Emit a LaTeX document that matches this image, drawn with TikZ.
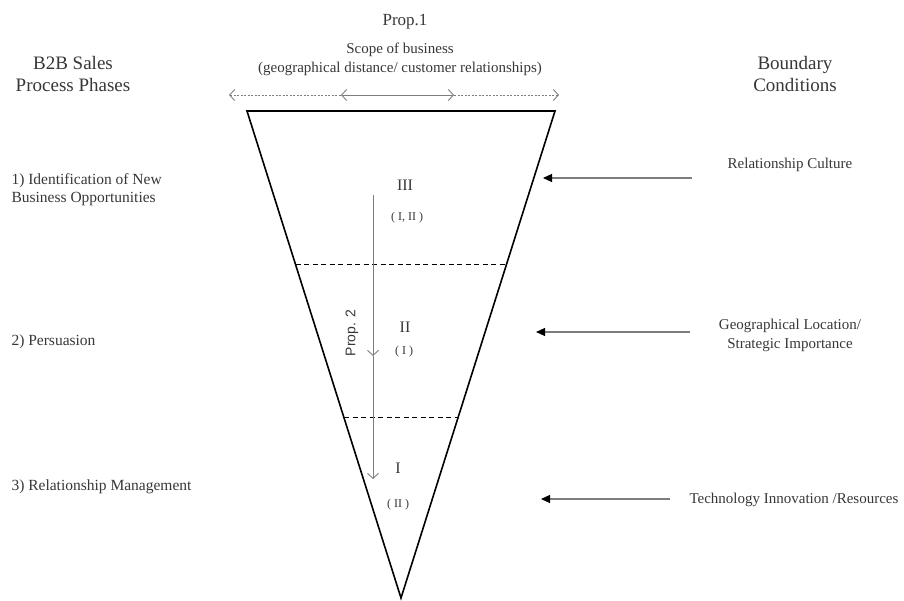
\documentclass[tikz,border=0pt]{standalone}
\usepackage{fontspec}
\setmainfont{Liberation Serif}
\newfontfamily\propsans{Liberation Sans}
\usetikzlibrary{calc, arrows.meta}
\definecolor{txtGray}{RGB}{55,55,55}
\definecolor{lineGray}{RGB}{125,125,125}

\begin{document}
\begin{tikzpicture}[x=1pt, y=-1pt, text=txtGray,
    font=\fontsize{15}{19}\selectfont,
    head/.style={font=\fontsize{19}{22}\selectfont, align=center},
    phase/.style={anchor=west, align=left, font=\fontsize{15.5}{18}\selectfont},
    cond/.style={align=center, font=\fontsize{15}{19}\selectfont},
    level/.style={font=\fontsize{16}{18}\selectfont},
    sub/.style={font=\fontsize{12}{13}\selectfont},
    barb/.tip={Straight Barb[length=5pt, width=11pt]},
    solidhead/.tip={Triangle[length=9pt, width=8pt, fill=black, color=black]},
    border/.style={draw=lineGray, line width=1.1pt, -solidhead},
    scopeline/.style={draw=lineGray, line width=0.9pt}]
  \useasboundingbox (0,0) rectangle (904,601);

  % Funnel outline
  \coordinate (tl) at (247,111);
  \coordinate (tr) at (555,111);
  \coordinate (bt) at (401,598);
  \draw[line width=1.6pt, line join=miter] (tl) -- (tr) -- (bt) -- cycle;

  % Dashed separators between the levels
  \foreach \f/\n in {0.316/a, 0.630/b} {
    \draw[line width=1.1pt, dash pattern=on 5pt off 3.5pt]
      ($(tl)!\f!(bt)$) coordinate (\n L) -- ($(tr)!\f!(bt)$) coordinate (\n R);
  }

  % Column headings
  \node[head] (phases) at (73,74) {B2B Sales\\Process Phases};
  \node[head] (bound) at (795,74) {Boundary\\Conditions};

  % Prop. 1 : scope of business
  \node[font=\fontsize{17}{20}\selectfont] (prop1) at (405,22) {Prop.1};
  \node[align=center] (scope) at (400,59)
    {Scope of business\\(geographical distance/ customer relationships)};
  \coordinate (s0) at (229,95);
  \coordinate (s1) at (341,95);
  \coordinate (s2) at (454,95);
  \coordinate (s3) at (559,95);
  \draw[scopeline, dash pattern=on 2pt off 1.5pt, barb-] (s0) -- (s1);
  \draw[scopeline, barb-barb] (s1) -- (s2);
  \draw[scopeline, dash pattern=on 2pt off 1.5pt, -barb] (s2) -- (s3);

  % Levels inside the funnel
  \node[level] (l3) at (405,185) {III};
  \node[sub]   (l3s) at (407,218) {( I, II )};
  \node[level] (l2) at (405,327) {II};
  \node[sub]   (l2s) at (404,352) {( I )};
  \node[level] (l1) at (398,468) {I};
  \node[sub]   (l1s) at (398,505) {( II )};

  % Prop. 2 : top-down arrow
  \coordinate (p2top) at (373,195);
  \coordinate (p2mid) at (373,356);
  \coordinate (p2bot) at (373,479);
  \draw[scopeline, -barb] (p2top) -- (p2mid);
  \draw[scopeline, -barb] (p2mid) -- (p2bot);
  \node[rotate=90, font=\propsans\fontsize{14}{16}\selectfont] (prop2) at (352,333) {Prop. 2};

  % Sales process phases
  \node[phase] (ph1) at (8,190) {1) Identification of New\\Business Opportunities};
  \node[phase] (ph2) at (8,342) {2) Persuasion};
  \node[phase] (ph3) at (8,487) {3) Relationship Management};

  % Boundary conditions
  \node[cond] (c1) at (790,165) {Relationship Culture};
  \node[cond] (c2) at (790,335) {Geographical Location/\\Strategic Importance};
  \node[cond, anchor=west] (c3) at (686,500) {Technology Innovation /Resources};
  \coordinate (c1s) at (692,178);
  \coordinate (c1e) at (543,178);
  \coordinate (c2s) at (690,332);
  \coordinate (c2e) at (536,332);
  \coordinate (c3s) at (670,499);
  \coordinate (c3e) at (541,499);
  \foreach \i in {1,2,3} {
    \draw[border] (c\i s) -- (c\i e);
  }
\end{tikzpicture}
\end{document}
